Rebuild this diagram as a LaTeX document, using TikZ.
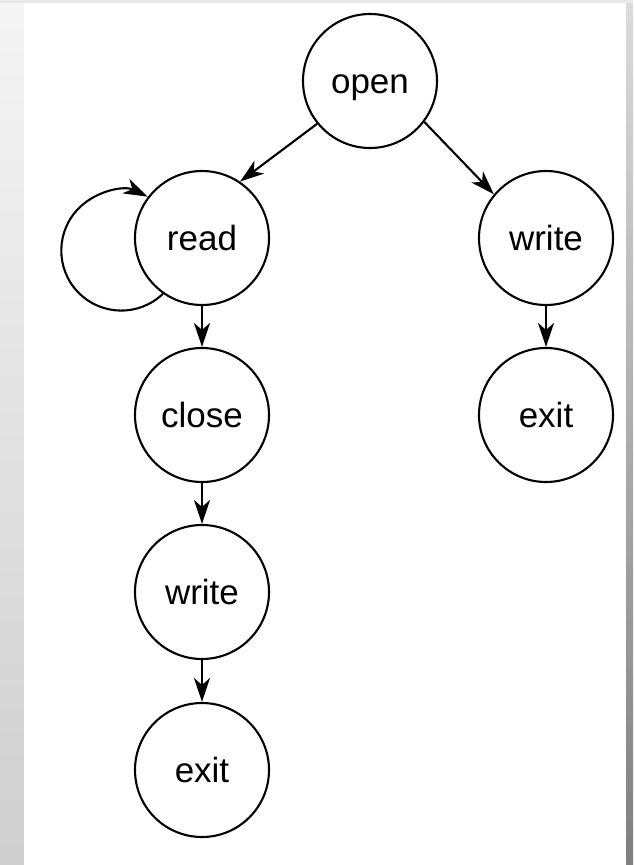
\documentclass[tikz,border=0pt]{standalone}
\usepackage{fontspec}
\setmainfont{Liberation Sans}
\usetikzlibrary{arrows.meta}
\begin{document}
\begin{tikzpicture}[x=1pt,y=1pt,
  state/.style={circle,draw,line width=2.1pt,minimum size=134pt,inner sep=0pt,
    text height=24pt,text depth=0pt,font=\fontsize{35}{40}\selectfont},
  edge/.style={line width=2.1pt,-{Stealth[length=24pt,width=16pt,inset=7pt]}}]
  % page frame: grey margins around a white sheet
  \useasboundingbox (0,0) rectangle (633,-865);
  \shade[top color=black!4,bottom color=black!19] (0,0) rectangle (24,-865);
  \fill[black!9] (0,0) rectangle (633,-3);
  \shade[top color=black!14,bottom color=black!50] (626,-3) rectangle (633,-865);
  \fill[white] (24,-3) rectangle (626,-865);

  % states
  \node[state] (open)   at (370,-81)  {open};
  \node[state] (read)   at (202,-238) {read};
  \node[state] (close)  at (202,-415) {close};
  \node[state] (write1) at (202,-592) {write};
  \node[state] (exit1)  at (202,-770) {exit};
  \node[state] (write2) at (546,-238) {write};
  \node[state] (exit2)  at (546,-415) {exit};

  % transitions
  \draw[edge] (open.219) -- (read.56);
  \draw[edge] (open.323) -- (write2.140);
  \draw[edge] (read.south) -- (close.north);
  \draw[edge] (close.south) -- (write1.north);
  \draw[edge] (write1.south) -- (exit1.north);
  \draw[edge] (write2.south) -- (exit2.north);
  % read loops back on itself
  \draw[edge] (read.235) arc[start angle=-46,end angle=-296,radius=60];
\end{tikzpicture}
\end{document}
